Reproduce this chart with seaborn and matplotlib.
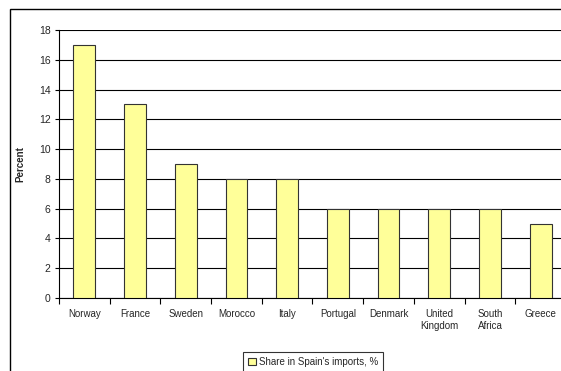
import matplotlib
matplotlib.use("Agg")
import matplotlib.pyplot as plt
import seaborn as sns
import pandas as pd
import numpy as np
from matplotlib.patches import Rectangle

countries = ["Norway", "France", "Sweden", "Morocco", "Italy", "Portugal",
             "Denmark", "United\nKingdom", "South\nAfrica", "Greece"]
shares = [17, 13, 9, 8, 8, 6, 6, 6, 6, 5]
series_name = "Share in Spain's imports, %"
yticks = [0, 2, 4, 6, 8, 10, 12, 14, 16, 18]

sns.set_theme(style="white")
plt.rcParams['font.family'] = ['Liberation Sans', 'DejaVu Sans']

df = pd.DataFrame({"Country": countries, "Share": shares, "Series": series_name})

fig = plt.figure(figsize=(5.61, 3.71), dpi=100)
ax = fig.add_axes([59/561, 1-298/371, (566-59)/561, (298-30)/371])

sns.barplot(data=df, x="Country", y="Share", hue="Series", ax=ax,
            palette=["#FFFF99"], edgecolor="#333333", linewidth=0.8,
            width=0.43, saturation=1, zorder=3)

ax.set_ylim(0, 18)
ax.set_xlim(-0.5, len(countries) - 0.5)
ax.set_yticks(yticks)
ax.yaxis.grid(True, color="black", linewidth=0.8, zorder=0)
ax.set_axisbelow(True)
for s in ["top", "right"]:
    ax.spines[s].set_visible(False)
for s in ["left", "bottom"]:
    ax.spines[s].set_color("black")
    ax.spines[s].set_linewidth(0.8)

ax.tick_params(axis="y", which="major", direction="out", length=3, width=0.8,
               color="black", labelsize=7.5, pad=3, left=True)
ax.tick_params(axis="x", which="major", length=0, labelsize=7, pad=8)
ax.set_xticks(np.arange(-0.5, len(countries)), minor=True)
ax.tick_params(axis="x", which="minor", direction="out", length=4, width=0.8,
               color="black", bottom=True)
ax.set_xlabel("")
ax.set_ylabel("Percent", fontsize=7, fontweight="bold", labelpad=10)

leg = ax.legend(loc="upper left", bbox_to_anchor=(243/561, 1-352/371),
                bbox_transform=fig.transFigure, fontsize=7, frameon=True,
                fancybox=False, edgecolor="black", handlelength=0.8,
                handleheight=0.8, handletextpad=0.3, borderpad=0.5,
                borderaxespad=0)
leg.get_frame().set_linewidth(0.8)

fig.patches.append(Rectangle((10/561, -0.1), 1.2, 1 - 9/371 + 0.1,
                             transform=fig.transFigure, fill=False,
                             edgecolor="black", linewidth=1.0))

fig.savefig("out.png", dpi=100)
